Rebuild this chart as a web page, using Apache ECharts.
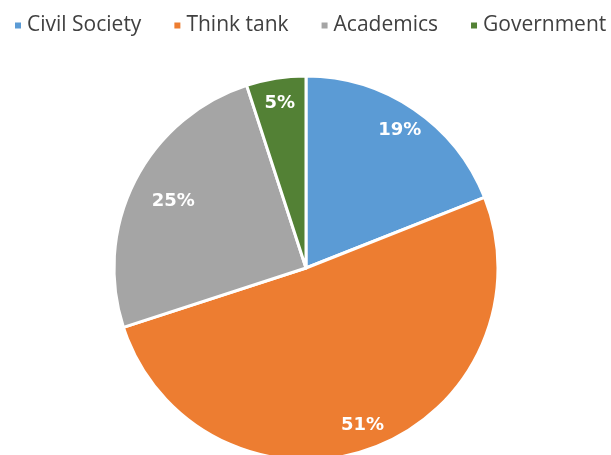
<!DOCTYPE html>
<html>
<head>
<meta charset="utf-8">
<style>
  html, body { margin: 0; padding: 0; background: #ffffff; }
  #chart { width: 611px; height: 455px; }
</style>
<script src="https://cdn.jsdelivr.net/npm/echarts@6/dist/echarts.min.js"></script>
</head>
<body>
<div id="chart"></div>
<script>
// Share of respondents by sector (percent)
const categories = ['Civil Society', 'Think tank', 'Academics', 'Government'];
const shares = [19, 51, 25, 5];
const colors = ['#5B9BD5', '#ED7D31', '#A5A5A5', '#538135'];

const chart = echarts.init(document.getElementById('chart'), null, { renderer: 'canvas' });

const pieData = categories.map((name, i) => ({ name, value: shares[i] }));

// labels sit near the rim; the wide grey slice keeps its label a little further in
const labelData = pieData.map(d =>
  d.name === 'Academics' ? Object.assign({}, d, { label: { offset: [16, 9] } }) : d
);

chart.setOption({
  animation: false,
  color: colors,
  legend: {
    data: categories,
    left: 8,
    top: 10,
    width: 700,
    icon: 'rect',
    itemWidth: 8,
    itemHeight: 8,
    itemGap: 31,
    textStyle: {
      fontFamily: 'Open Sans',
      fontSize: 21,
      color: '#404040',
      padding: [0, 0, 0, 0]
    }
  },
  series: [
    {
      type: 'pie',
      center: [306, 268],
      radius: 192,
      startAngle: 90,
      clockwise: true,
      data: pieData,
      itemStyle: { borderColor: '#ffffff', borderWidth: 3 },
      label: { show: false },
      labelLine: { show: false },
      silent: true
    },
    {
      // transparent ring used only to place the percentage labels
      type: 'pie',
      center: [306, 268],
      radius: 328,
      startAngle: 90,
      clockwise: true,
      data: labelData,
      itemStyle: { color: 'rgba(0,0,0,0)', borderWidth: 0 },
      label: {
        show: true,
        position: 'inside',
        formatter: p => p.value + '%',
        color: '#ffffff',
        fontFamily: 'DejaVu Sans',
        fontWeight: 'bold',
        fontSize: 18
      },
      labelLine: { show: false },
      silent: true
    }
  ]
});
</script>
</body>
</html>
